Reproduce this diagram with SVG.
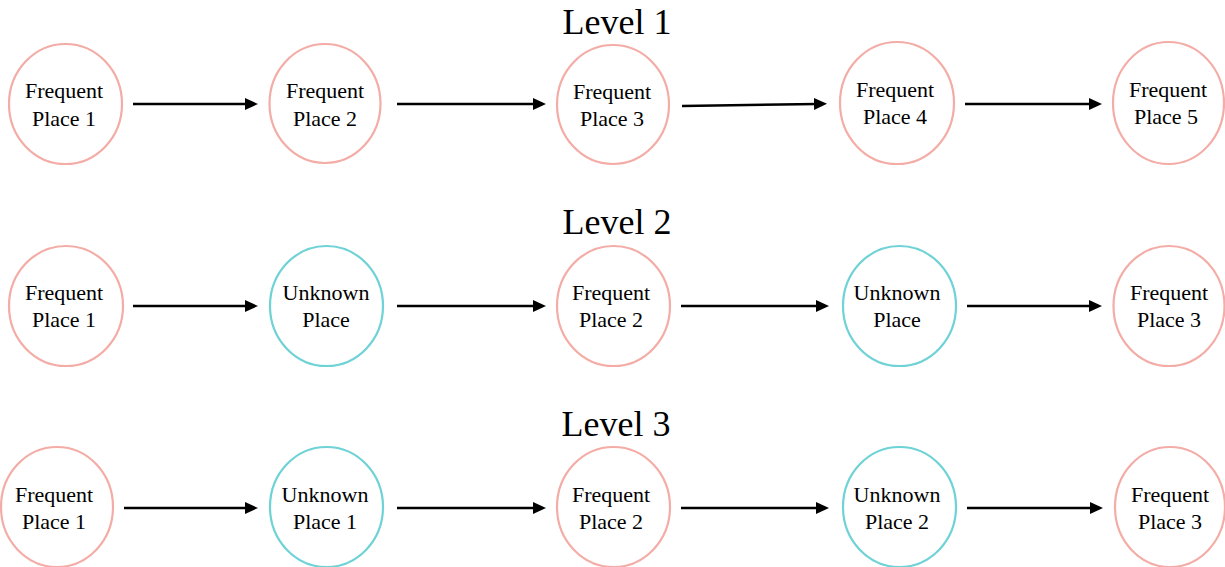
<svg xmlns="http://www.w3.org/2000/svg" width="1225" height="567" viewBox="0 0 1225 567">
<defs>
<style>
.freq{fill:none;stroke:#F4ACA6;stroke-width:2.2}
.unk{fill:none;stroke:#6ED2D6;stroke-width:2.2}
.lbl{font-family:"Liberation Serif","Times New Roman",serif;font-size:22px;fill:#000;text-anchor:middle}
.title{font-family:"Liberation Serif","Times New Roman",serif;font-size:36px;fill:#000;text-anchor:middle}
.arr{stroke:#000;stroke-width:2.5;fill:none;marker-end:url(#ah)}
</style>
<marker id="ah" markerUnits="userSpaceOnUse" markerWidth="14" markerHeight="13" refX="3" refY="6" orient="auto">
<path d="M0,0 L13,6 L0,12 Z" fill="#000"/>
</marker>
</defs>
<rect width="1225" height="567" fill="#fff"/>
<g id="titles">
<text class="title" x="617" y="34">Level 1</text>
<text class="title" x="617" y="234">Level 2</text>
<text class="title" x="616" y="436">Level 3</text>
</g>
<g id="connectors">
<line class="arr" x1="133" y1="104" x2="248" y2="104"/>
<line class="arr" x1="397" y1="104" x2="536" y2="104"/>
<line class="arr" x1="682" y1="106" x2="817" y2="104"/>
<line class="arr" x1="965" y1="104" x2="1092" y2="104"/>
<line class="arr" x1="133" y1="306" x2="248" y2="306"/>
<line class="arr" x1="397" y1="306" x2="536" y2="306"/>
<line class="arr" x1="681" y1="306" x2="819" y2="306"/>
<line class="arr" x1="967" y1="306" x2="1092" y2="306"/>
<line class="arr" x1="124" y1="508" x2="248" y2="508"/>
<line class="arr" x1="397" y1="508" x2="536" y2="508"/>
<line class="arr" x1="681" y1="508" x2="819" y2="508"/>
<line class="arr" x1="967" y1="508" x2="1093" y2="508"/>
</g>
<g id="l1n1"><ellipse class="freq" cx="65.5" cy="104" rx="56.5" ry="60"/><text class="lbl" x="64" y="98">Frequent</text><text class="lbl" x="64" y="126">Place 1</text></g>
<g id="l1n2"><ellipse class="freq" cx="325" cy="103.5" rx="55.5" ry="59.5"/><text class="lbl" x="325" y="98">Frequent</text><text class="lbl" x="325" y="126">Place 2</text></g>
<g id="l1n3"><ellipse class="freq" cx="613" cy="104.5" rx="56" ry="59.5"/><text class="lbl" x="612" y="99">Frequent</text><text class="lbl" x="612" y="126">Place 3</text></g>
<g id="l1n4"><ellipse class="freq" cx="897" cy="103" rx="57" ry="61"/><text class="lbl" x="895" y="97">Frequent</text><text class="lbl" x="895" y="124">Place 4</text></g>
<g id="l1n5"><ellipse class="freq" cx="1168.5" cy="103" rx="55.5" ry="61"/><text class="lbl" x="1168" y="97">Frequent</text><text class="lbl" x="1166" y="124">Place 5</text></g>
<g id="l2n1"><ellipse class="freq" cx="66" cy="306" rx="57" ry="60"/><text class="lbl" x="64" y="300">Frequent</text><text class="lbl" x="64" y="327">Place 1</text></g>
<g id="l2n2"><ellipse class="unk" cx="326.5" cy="306" rx="56.5" ry="60"/><text class="lbl" x="326" y="300">Unknown</text><text class="lbl" x="326" y="327">Place</text></g>
<g id="l2n3"><ellipse class="freq" cx="613.5" cy="306" rx="56.5" ry="60"/><text class="lbl" x="611" y="300">Frequent</text><text class="lbl" x="611" y="327">Place 2</text></g>
<g id="l2n4"><ellipse class="unk" cx="899.5" cy="306" rx="56.5" ry="60"/><text class="lbl" x="897" y="300">Unknown</text><text class="lbl" x="897" y="327">Place</text></g>
<g id="l2n5"><ellipse class="freq" cx="1169" cy="306" rx="55.5" ry="60"/><text class="lbl" x="1169" y="300">Frequent</text><text class="lbl" x="1169" y="327">Place 3</text></g>
<g id="l3n1"><ellipse class="freq" cx="57" cy="507" rx="56" ry="60"/><text class="lbl" x="54" y="502">Frequent</text><text class="lbl" x="54" y="529">Place 1</text></g>
<g id="l3n2"><ellipse class="unk" cx="326.5" cy="507" rx="56.5" ry="60"/><text class="lbl" x="325" y="502">Unknown</text><text class="lbl" x="325" y="529">Place 1</text></g>
<g id="l3n3"><ellipse class="freq" cx="613.5" cy="507" rx="56.5" ry="60"/><text class="lbl" x="611" y="502">Frequent</text><text class="lbl" x="611" y="529">Place 2</text></g>
<g id="l3n4"><ellipse class="unk" cx="899.5" cy="507" rx="56.5" ry="60"/><text class="lbl" x="897" y="502">Unknown</text><text class="lbl" x="897" y="529">Place 2</text></g>
<g id="l3n5"><ellipse class="freq" cx="1170" cy="507" rx="55" ry="60"/><text class="lbl" x="1170" y="502">Frequent</text><text class="lbl" x="1170" y="529">Place 3</text></g>
</svg>
